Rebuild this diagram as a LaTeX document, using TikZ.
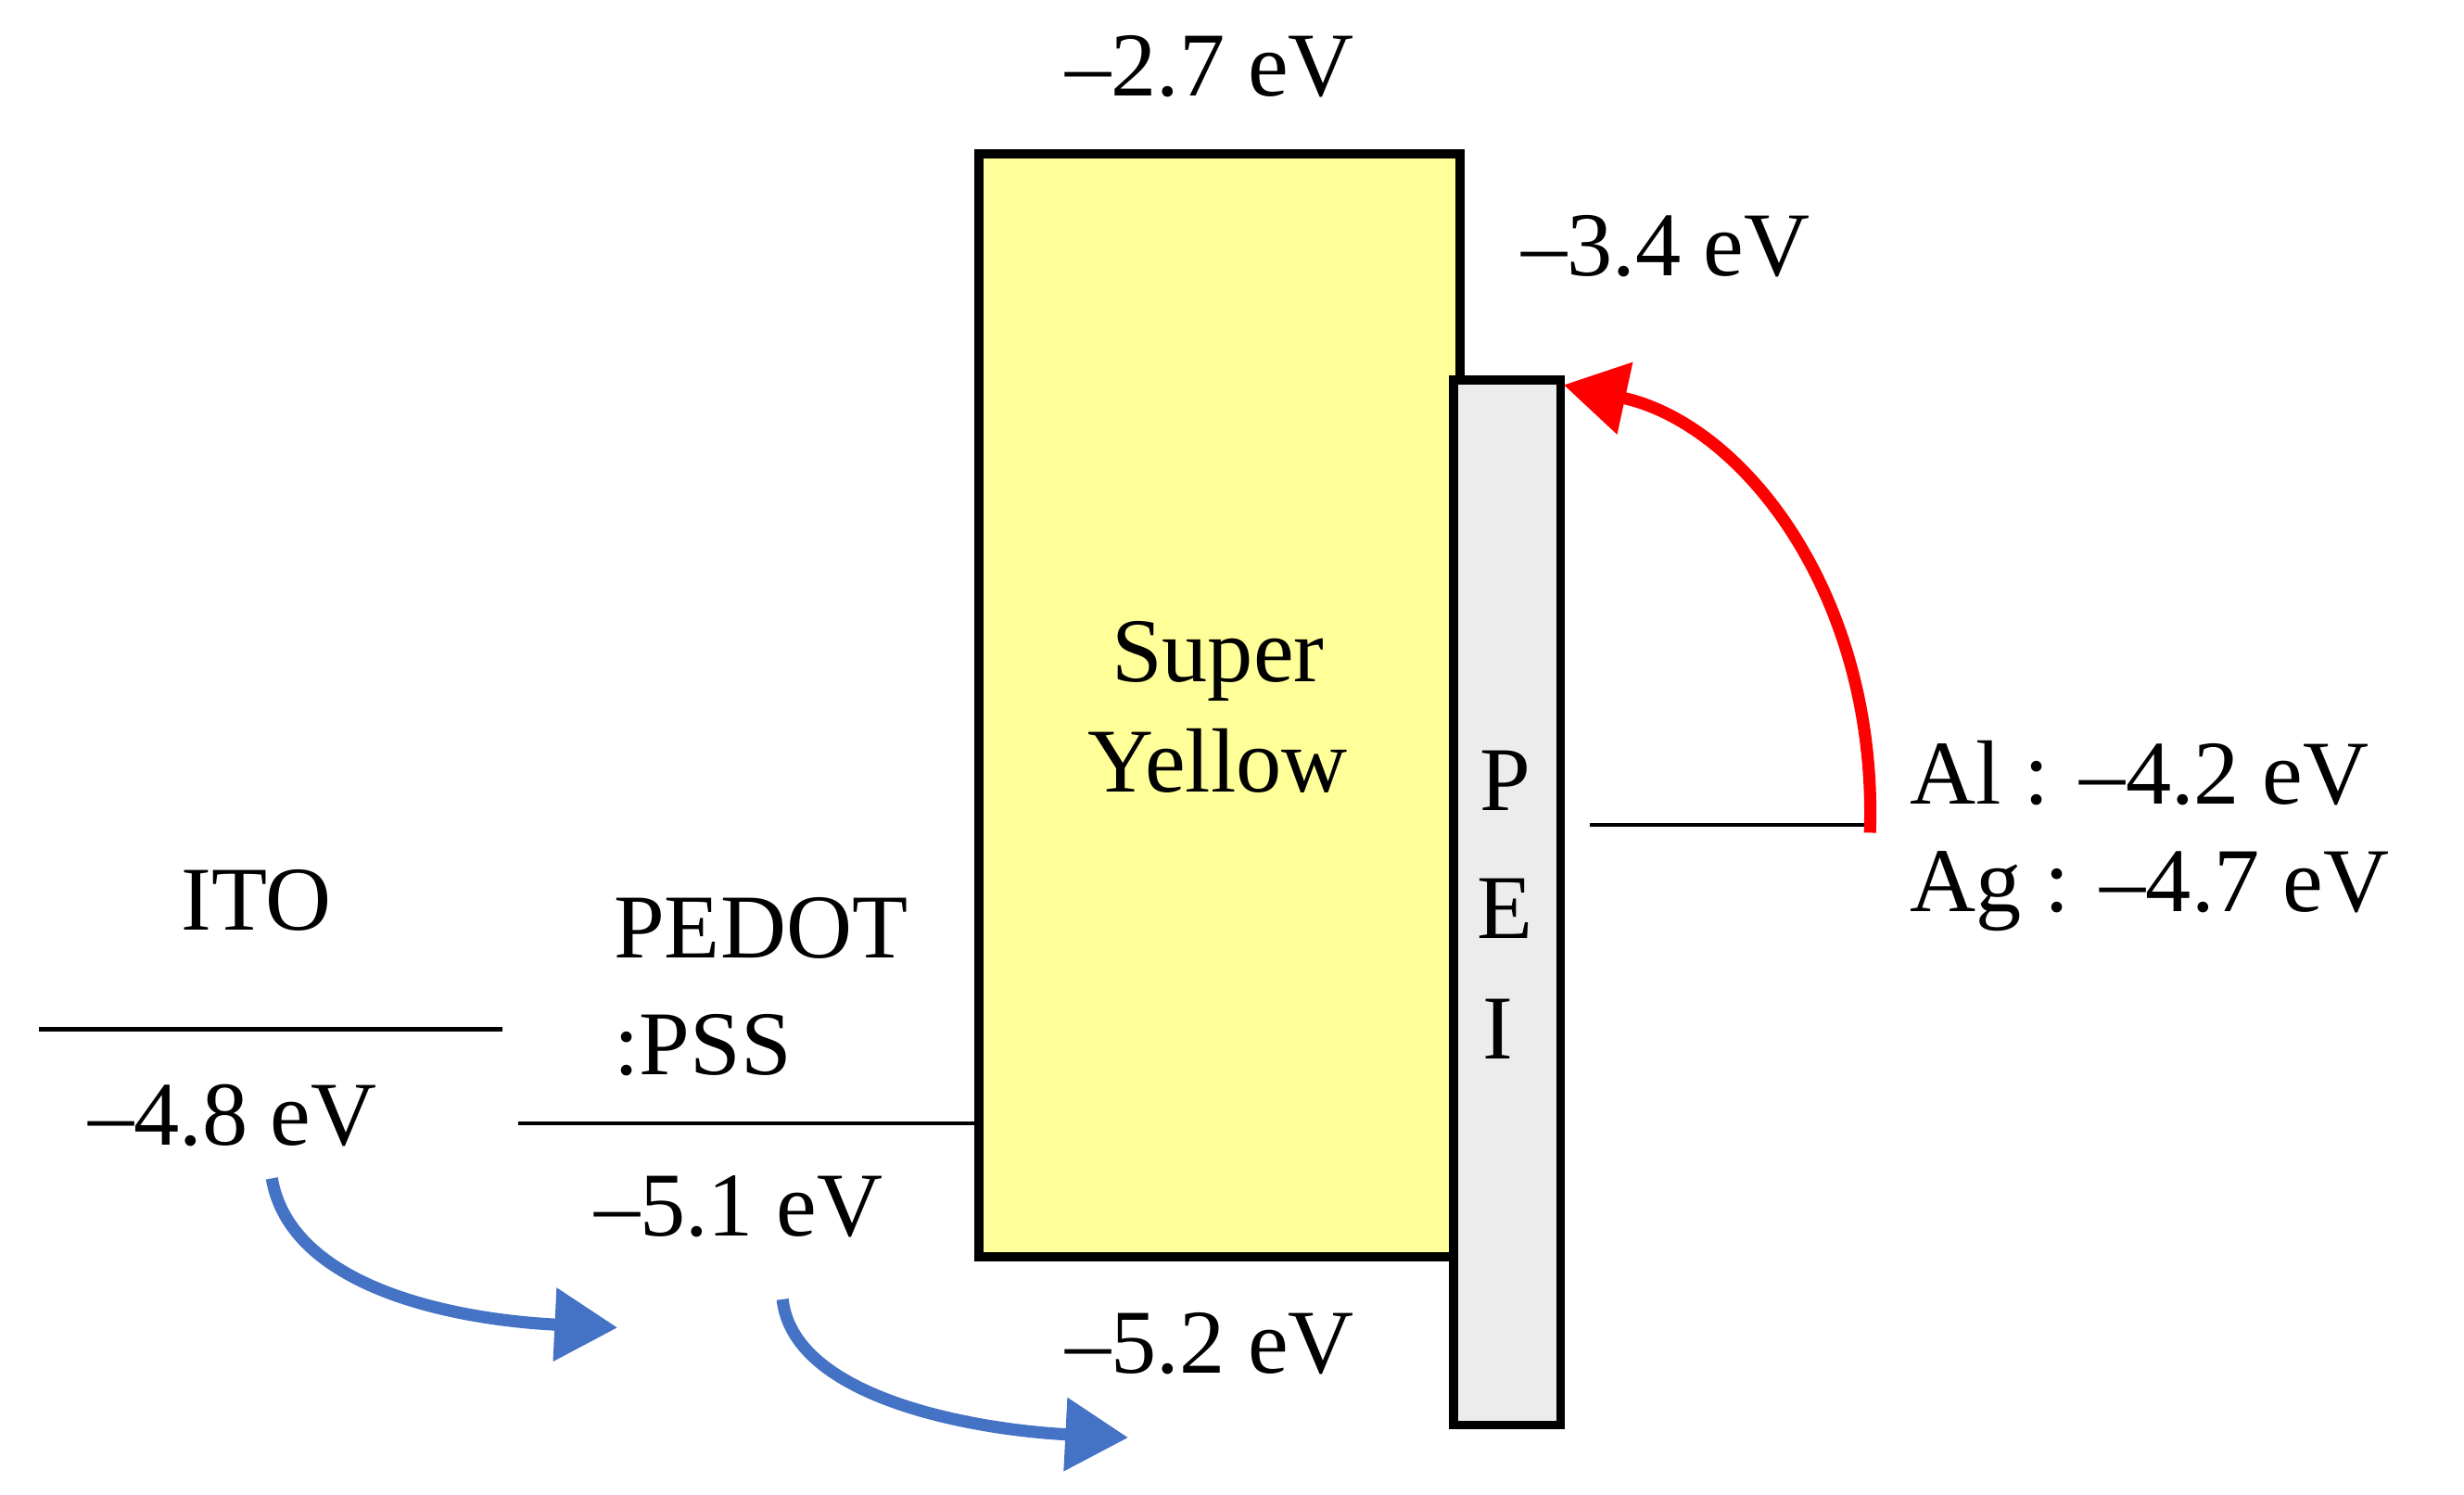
\documentclass[tikz,border=0pt]{standalone}
\usepackage{fontspec}
\setmainfont{Liberation Serif}
\usetikzlibrary{arrows.meta}
\definecolor{syellow}{HTML}{FFFF99}
\definecolor{arrblue}{HTML}{4472C4}
\tikzset{%
  % styles of layers and labels
  layer/.style = {draw, line width=1.6pt},
  lvl/.style = {draw, line width=0.8pt},
  lab/.style = {font=\fontsize{16.5}{19}\selectfont, inner sep=0pt},
  inject/.style = {line width=2.2pt, -{Triangle[width=4.5mm,length=4mm]}},
}
\begin{document}
\begin{tikzpicture}[x=0.01cm, y=-0.01cm]
  \useasboundingbox (0,0) rectangle (1568,951);
  % layers
  \draw [layer, fill=syellow] (623,98) rectangle (929,800);
  \draw [layer, fill=gray!15] (925,242) rectangle (993,907);
  \node (sy) [lab, align=center] at (775,450) {Super\\[1pt]Yellow};
  \node (p) [lab] at (958,497) {P};
  \node (e) [lab] at (958,578) {E};
  \node (i) [lab] at (953,655) {I};
  \node (lumo) [lab] at (770,42) {–2.7 eV};
  \node (peilumo) [lab] at (1060,157) {–3.4 eV};
  \node (homo) [lab] at (770,855) {–5.2 eV};
  \coordinate (peitop) at (995,245);
  % cathode
  \coordinate (cl) at (1012,525);
  \coordinate (cr) at (1190,525);
  \draw [lvl] (cl) -- (cr);
  \node (al) [lab, anchor=west] at (1215,492) {Al : –4.2 eV};
  \node (ag) [lab, anchor=west] at (1215,567) {Ag : –4.7 eV};
  \draw [line width=2.2pt, red, -{Triangle[width=4.5mm,length=4mm]}]
    (1190,530) .. controls (1195,380) and (1110,270) .. (peitop);
  % anode side
  \node (ito) [lab] at (163,573) {ITO};
  \coordinate (il) at (25,655);
  \coordinate (ir) at (320,655);
  \draw [lvl] (il) -- (ir);
  \node (itoe) [lab] at (148,710) {–4.8 eV};
  \node (pedot) [lab, anchor=west, align=left] at (390,628) {PEDOT\\[2pt]:PSS};
  \coordinate (pl) at (330,715);
  \coordinate (pr) at (623,715);
  \draw [lvl] (pl) -- (pr);
  \node (pedote) [lab] at (470,768) {–5.1 eV};
  % hole transfer
  \draw [inject, arrblue] (173,750) .. controls (185,820) and (290,840) .. (393,845);
  \draw [inject, arrblue] (498,827) .. controls (505,890) and (620,910) .. (718,915);
\end{tikzpicture}
\end{document}
